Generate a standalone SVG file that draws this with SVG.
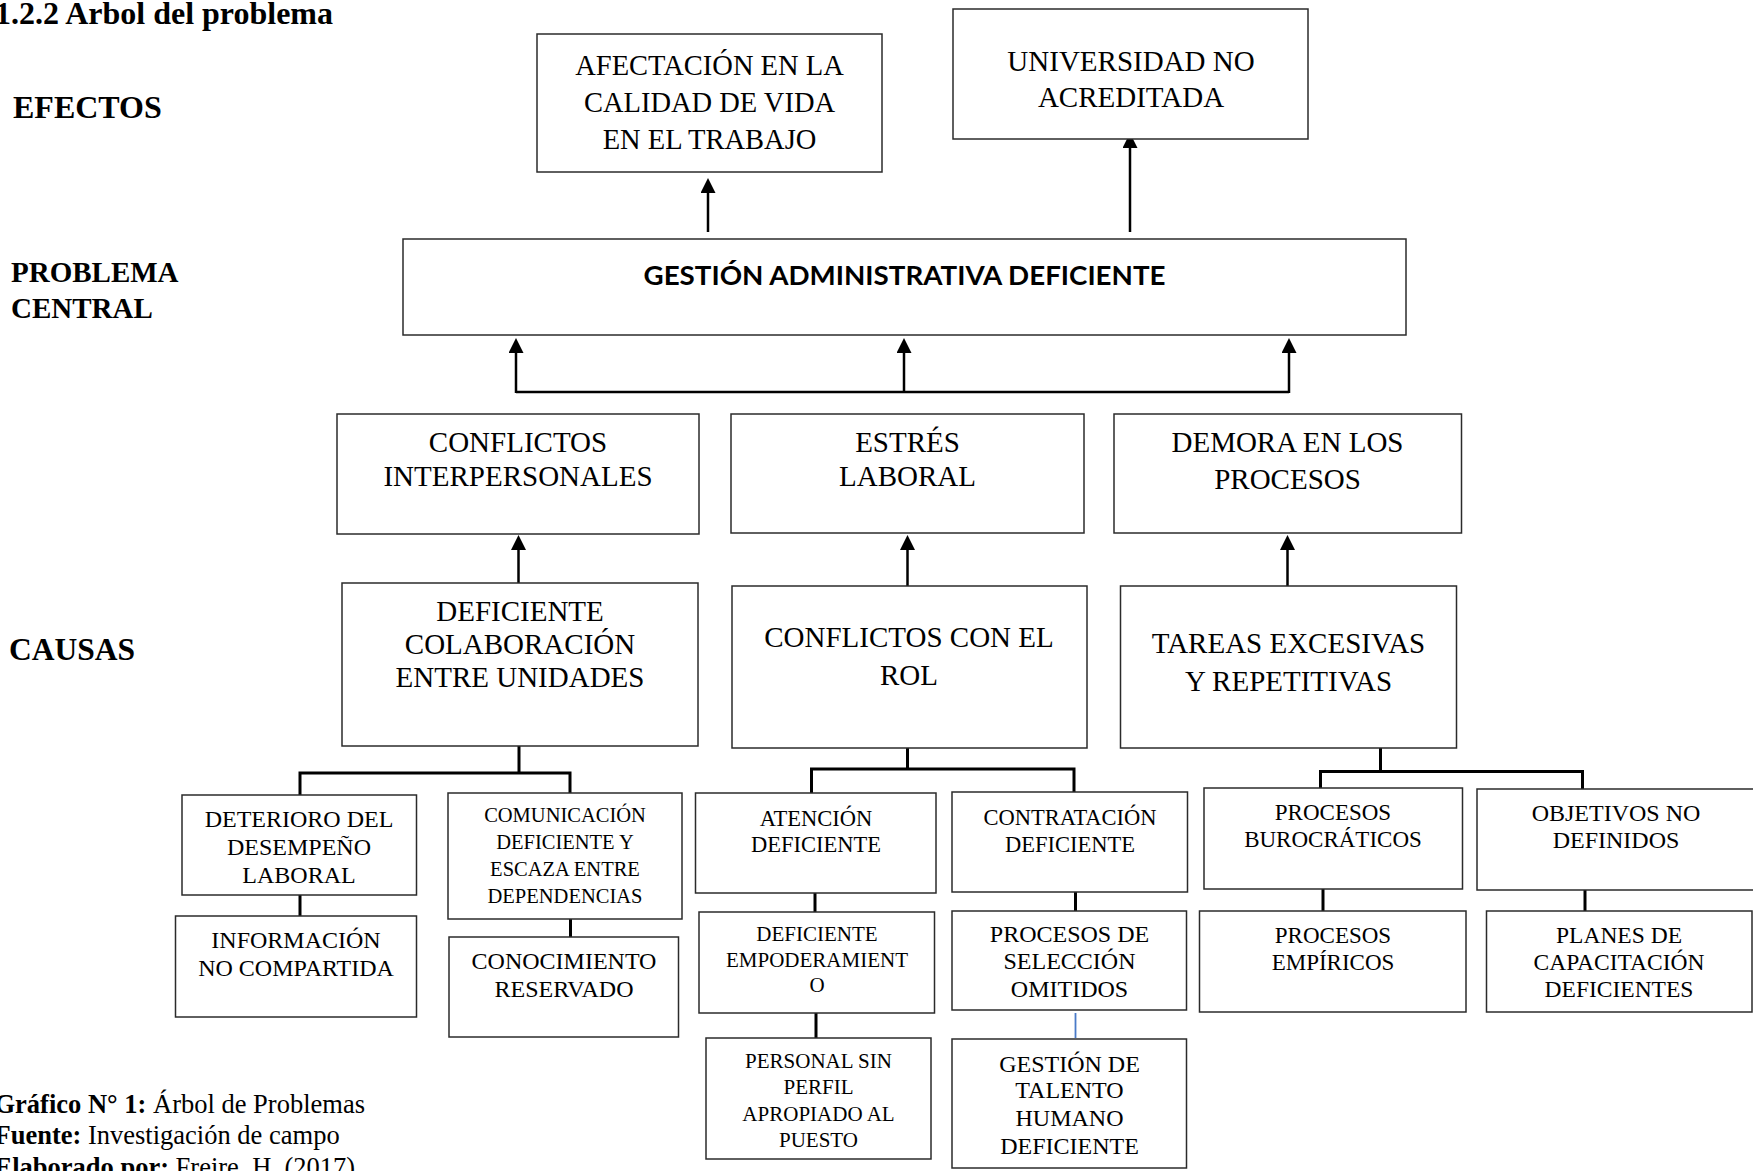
<svg xmlns="http://www.w3.org/2000/svg" width="1753" height="1171" viewBox="0 0 1753 1171">
  <defs>
    <style>
      .box { fill: #ffffff; stroke: #2b2b2b; stroke-width: 1.5; }
      .t { font-family: "Liberation Serif", "Times New Roman", serif; text-anchor: middle; fill: #000; }
      .lbl { font-family: "Liberation Serif", "Times New Roman", serif; font-weight: bold; fill: #000; }
      .foot { font-family: "Liberation Serif", "Times New Roman", serif; font-size: 26.5px; fill: #000; }
      .arrow { stroke: #000; stroke-width: 2.5; fill: none; marker-end: url(#ah); }
      .link { stroke: #000; stroke-width: 3; fill: none; }
      .link-blue { stroke: #4a7ac8; stroke-width: 1.8; fill: none; }
      .f29 { font-size: 29px; }
      .f24 { font-size: 24px; }
      .f23 { font-size: 23px; }
      .f22 { font-size: 22.5px; }
      .f21 { font-size: 21px; }
    </style>
    <marker id="ah" viewBox="0 0 15 15" refX="0" refY="7.5" markerWidth="15" markerHeight="15" markerUnits="userSpaceOnUse" orient="auto">
      <path d="M0,0 L15,7.5 L0,15 z" fill="#000"/>
    </marker>
  </defs>

  <rect width="1753" height="1171" fill="#ffffff"/>

  <!-- Section title and level labels -->
  <text class="lbl" x="333" y="24" font-size="32" text-anchor="end">1.2.2 Arbol del problema</text>
  <text class="lbl" x="13" y="118" font-size="32">EFECTOS</text>
  <text class="lbl" x="11" y="282" font-size="29">PROBLEMA</text>
  <text class="lbl" x="11" y="318" font-size="29">CENTRAL</text>
  <text class="lbl" x="9" y="660" font-size="31.5">CAUSAS</text>

  <!-- Connectors -->
  <g id="connectors">
    <!-- central problem to effects -->
    <line class="arrow" x1="708" y1="232" x2="708" y2="193"/>
    <line class="arrow" x1="1130" y1="232" x2="1130" y2="148"/>
    <!-- direct causes to central problem -->
    <line class="link" x1="516" y1="392" x2="1289" y2="392" style="stroke-width:2.5"/>
    <line class="arrow" x1="516" y1="393" x2="516" y2="353"/>
    <line class="arrow" x1="904" y1="393" x2="904" y2="353"/>
    <line class="arrow" x1="1289" y1="393" x2="1289" y2="353"/>
    <!-- root causes to direct causes -->
    <line class="arrow" x1="518.5" y1="583" x2="518.5" y2="550"/>
    <line class="arrow" x1="907.5" y1="586" x2="907.5" y2="550"/>
    <line class="arrow" x1="1287.5" y1="586" x2="1287.5" y2="550"/>
    <!-- branches under root causes -->
    <path class="link" d="M519,746 V773"/>
    <path class="link" d="M300,795 V773 H570 V793"/>
    <path class="link" d="M907.5,748 V769"/>
    <path class="link" d="M811.5,793 V769 H1074 V792"/>
    <path class="link" d="M1380.5,748 V771.5"/>
    <path class="link" d="M1320.5,788 V771.5 H1582.5 V789"/>
    <!-- sub-cause chains -->
    <path class="link" d="M300,895 V916"/>
    <path class="link" d="M570.5,919 V937"/>
    <path class="link" d="M815,893 V912"/>
    <path class="link" d="M816,1013 V1038"/>
    <path class="link" d="M1075.5,892 V911"/>
    <path class="link-blue" d="M1075.5,1013 V1038"/>
    <path class="link" d="M1323,889 V911"/>
    <path class="link" d="M1585,890 V911"/>
  </g>

  <!-- Effects -->
  <g id="efecto-calidad-vida">
    <rect class="box" x="537" y="34" width="345" height="138"/>
    <text class="t" font-size="28.5"><tspan x="709.5" y="75">AFECTACIÓN EN LA</tspan><tspan x="709.5" y="112">CALIDAD DE VIDA</tspan><tspan x="709.5" y="149">EN EL TRABAJO</tspan></text>
  </g>
  <g id="efecto-acreditacion">
    <rect class="box" x="953" y="9" width="355" height="130"/>
    <text class="t f29"><tspan x="1131" y="71">UNIVERSIDAD NO</tspan><tspan x="1131" y="107">ACREDITADA</tspan></text>
  </g>

  <!-- Central problem -->
  <g id="problema-central">
    <rect class="box" x="403" y="239" width="1003" height="96"/>
    <text x="904.5" y="285" text-anchor="middle" font-family="Lato, 'Open Sans', 'Liberation Sans', sans-serif" font-weight="bold" font-size="26" textLength="522" lengthAdjust="spacingAndGlyphs">GESTIÓN ADMINISTRATIVA DEFICIENTE</text>
  </g>

  <!-- Direct causes -->
  <g id="causa-conflictos-interpersonales">
    <rect class="box" x="337" y="414" width="362" height="120"/>
    <text class="t f29"><tspan x="518" y="452">CONFLICTOS</tspan><tspan x="518" y="486">INTERPERSONALES</tspan></text>
  </g>
  <g id="causa-estres-laboral">
    <rect class="box" x="731" y="414" width="353" height="119"/>
    <text class="t f29"><tspan x="907.5" y="452">ESTRÉS</tspan><tspan x="907.5" y="486">LABORAL</tspan></text>
  </g>
  <g id="causa-demora-procesos">
    <rect class="box" x="1114" y="414" width="347.5" height="119"/>
    <text class="t f29"><tspan x="1287.5" y="452">DEMORA EN LOS</tspan><tspan x="1287.5" y="489">PROCESOS</tspan></text>
  </g>

  <!-- Root causes -->
  <g id="causa-colaboracion">
    <rect class="box" x="342" y="583" width="356" height="163"/>
    <text class="t f29"><tspan x="520" y="621">DEFICIENTE</tspan><tspan x="520" y="654">COLABORACIÓN</tspan><tspan x="520" y="687">ENTRE UNIDADES</tspan></text>
  </g>
  <g id="causa-conflictos-rol">
    <rect class="box" x="732" y="586" width="355" height="162"/>
    <text class="t f29"><tspan x="909" y="647">CONFLICTOS CON EL</tspan><tspan x="909" y="685">ROL</tspan></text>
  </g>
  <g id="causa-tareas">
    <rect class="box" x="1120.5" y="586" width="336" height="162"/>
    <text class="t f29"><tspan x="1288.5" y="653">TAREAS EXCESIVAS</tspan><tspan x="1288.5" y="691">Y REPETITIVAS</tspan></text>
  </g>

  <!-- Sub-causes: collaboration branch -->
  <g id="sub-deterioro">
    <rect class="box" x="182" y="795" width="234.5" height="100"/>
    <text class="t f24"><tspan x="299" y="827">DETERIORO DEL</tspan><tspan x="299" y="855">DESEMPEÑO</tspan><tspan x="299" y="883">LABORAL</tspan></text>
  </g>
  <g id="sub-informacion">
    <rect class="box" x="175.5" y="916" width="241" height="101"/>
    <text class="t f24"><tspan x="296" y="948">INFORMACIÓN</tspan><tspan x="296" y="976">NO COMPARTIDA</tspan></text>
  </g>
  <g id="sub-comunicacion">
    <rect class="box" x="448" y="793" width="234" height="126"/>
    <text class="t" font-size="20.5"><tspan x="565" y="822">COMUNICACIÓN</tspan><tspan x="565" y="849">DEFICIENTE Y</tspan><tspan x="565" y="876">ESCAZA ENTRE</tspan><tspan x="565" y="903">DEPENDENCIAS</tspan></text>
  </g>
  <g id="sub-conocimiento">
    <rect class="box" x="449" y="937" width="229.5" height="100"/>
    <text class="t f24"><tspan x="564" y="969">CONOCIMIENTO</tspan><tspan x="564" y="997">RESERVADO</tspan></text>
  </g>

  <!-- Sub-causes: role branch -->
  <g id="sub-atencion">
    <rect class="box" x="695.5" y="793" width="240.5" height="100"/>
    <text class="t f22"><tspan x="816" y="826">ATENCIÓN</tspan><tspan x="816" y="852">DEFICIENTE</tspan></text>
  </g>
  <g id="sub-empoderamiento">
    <rect class="box" x="699" y="912" width="235.5" height="101"/>
    <text class="t f21"><tspan x="817" y="941">DEFICIENTE</tspan><tspan x="817" y="967">EMPODERAMIENT</tspan><tspan x="817" y="992">O</tspan></text>
  </g>
  <g id="sub-perfil">
    <rect class="box" x="706" y="1038" width="225" height="121"/>
    <text class="t f21"><tspan x="818.5" y="1068">PERSONAL SIN</tspan><tspan x="818.5" y="1094">PERFIL</tspan><tspan x="818.5" y="1121">APROPIADO AL</tspan><tspan x="818.5" y="1147">PUESTO</tspan></text>
  </g>
  <g id="sub-contratacion">
    <rect class="box" x="952" y="792" width="235.5" height="100"/>
    <text class="t f22"><tspan x="1070" y="825">CONTRATACIÓN</tspan><tspan x="1070" y="852">DEFICIENTE</tspan></text>
  </g>
  <g id="sub-seleccion">
    <rect class="box" x="952" y="911" width="234.5" height="99"/>
    <text class="t f24"><tspan x="1069.5" y="942">PROCESOS DE</tspan><tspan x="1069.5" y="969">SELECCIÓN</tspan><tspan x="1069.5" y="997">OMITIDOS</tspan></text>
  </g>
  <g id="sub-talento">
    <rect class="box" x="952" y="1039" width="234.5" height="129"/>
    <text class="t f24"><tspan x="1069.5" y="1072">GESTIÓN DE</tspan><tspan x="1069.5" y="1098">TALENTO</tspan><tspan x="1069.5" y="1126">HUMANO</tspan><tspan x="1069.5" y="1154">DEFICIENTE</tspan></text>
  </g>

  <!-- Sub-causes: workload branch -->
  <g id="sub-burocraticos">
    <rect class="box" x="1204" y="788" width="258.5" height="101"/>
    <text class="t f23"><tspan x="1333" y="820">PROCESOS</tspan><tspan x="1333" y="847">BUROCRÁTICOS</tspan></text>
  </g>
  <g id="sub-empiricos">
    <rect class="box" x="1199.5" y="911" width="266.5" height="101"/>
    <text class="t f23"><tspan x="1333" y="943">PROCESOS</tspan><tspan x="1333" y="970">EMPÍRICOS</tspan></text>
  </g>
  <g id="sub-objetivos">
    <rect class="box" x="1477" y="789" width="290" height="101"/>
    <text class="t f24"><tspan x="1616" y="821">OBJETIVOS NO</tspan><tspan x="1616" y="848">DEFINIDOS</tspan></text>
  </g>
  <g id="sub-capacitacion">
    <rect class="box" x="1486.5" y="911" width="265.5" height="101"/>
    <text class="t" font-size="23.5"><tspan x="1619" y="943">PLANES DE</tspan><tspan x="1619" y="970">CAPACITACIÓN</tspan><tspan x="1619" y="997">DEFICIENTES</tspan></text>
  </g>

  <!-- Caption -->
  <text class="foot" x="-5.5" y="1113"><tspan font-weight="bold">Gráfico N° 1:</tspan> Árbol de Problemas</text>
  <text class="foot" x="-5.5" y="1144"><tspan font-weight="bold">Fuente:</tspan> Investigación de campo</text>
  <text class="foot" x="-5.5" y="1176"><tspan font-weight="bold">Elaborado por:</tspan> Freire, H. (2017)</text>
</svg>
